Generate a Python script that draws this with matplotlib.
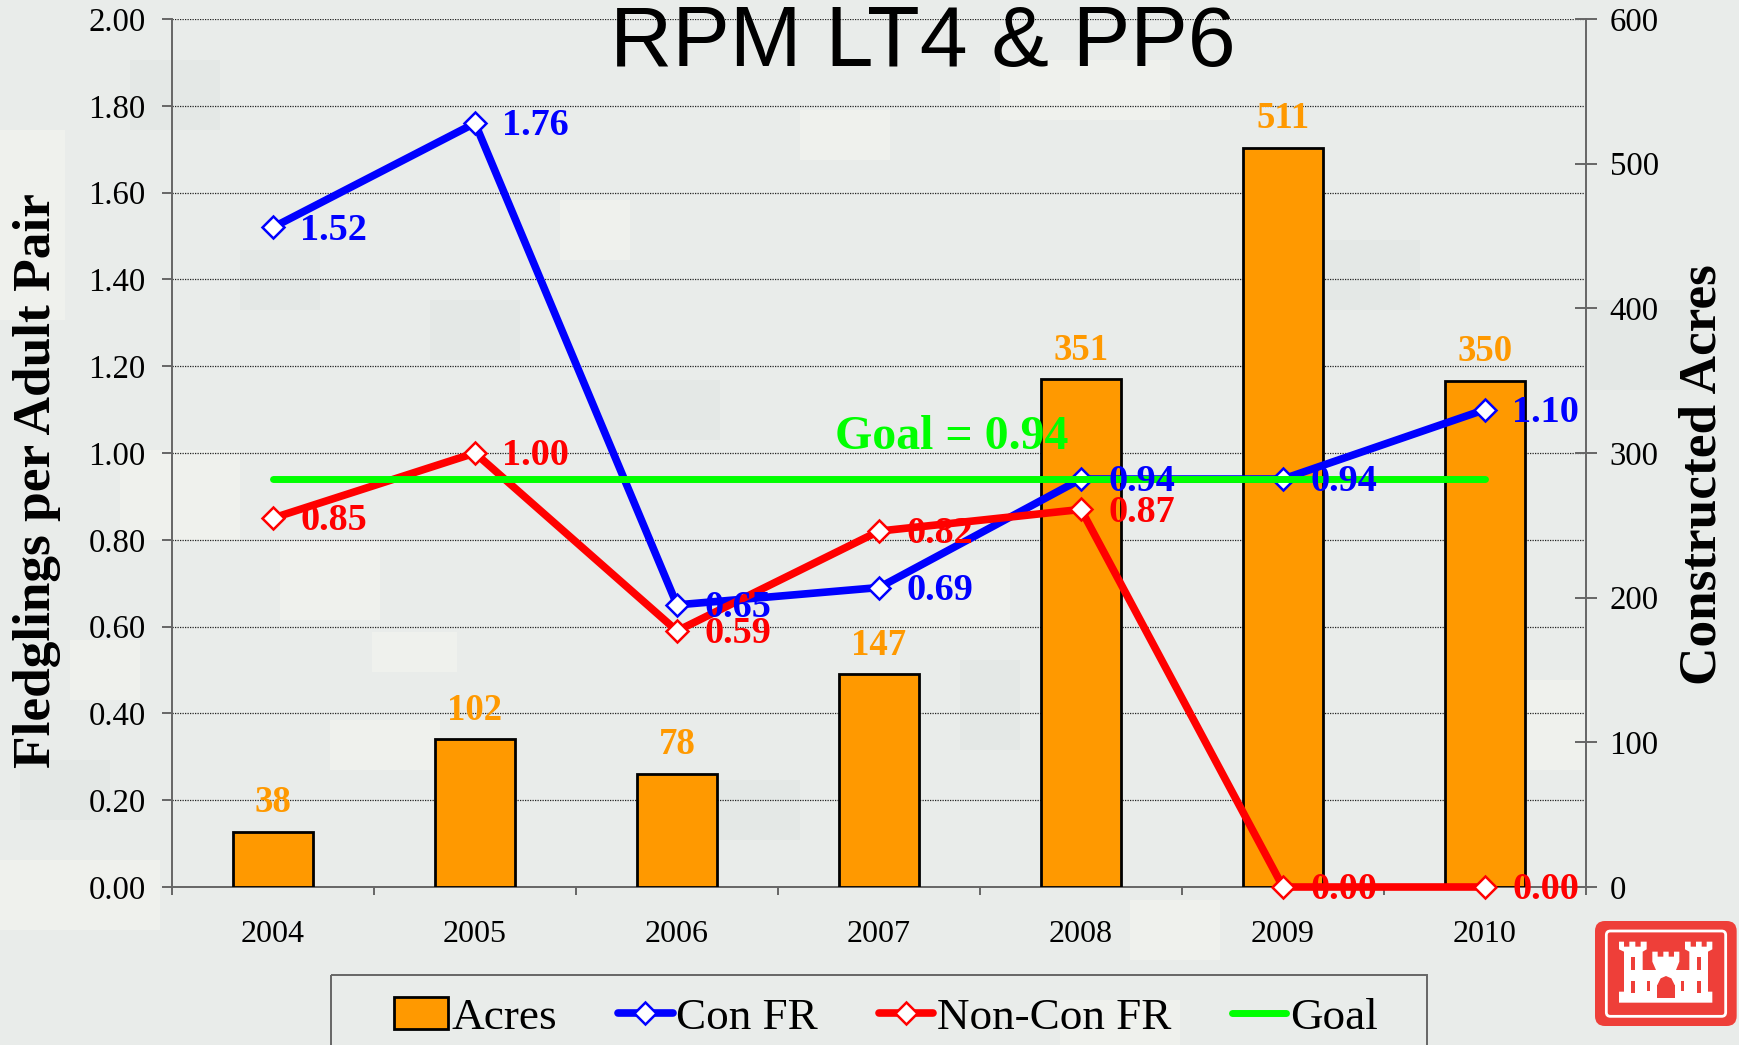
import matplotlib
matplotlib.use('Agg')
import matplotlib.pyplot as plt
from matplotlib.patches import Rectangle, FancyBboxPatch, Polygon, Patch
from matplotlib.lines import Line2D

years = ['2004', '2005', '2006', '2007', '2008', '2009', '2010']
acres = [38, 102, 78, 147, 351, 511, 350]
con_fr = [1.52, 1.76, 0.65, 0.69, 0.94, 0.94, 1.10]
non_con_fr = [0.85, 1.00, 0.59, 0.82, 0.87, 0.00, 0.00]
goal = [0.94, 0.94, 0.94, 0.94, 0.94, 0.94, 0.94]
left_ticks = [0.0, 0.2, 0.4, 0.6, 0.8, 1.0, 1.2, 1.4, 1.6, 1.8, 2.0]
right_ticks = [0, 100, 200, 300, 400, 500, 600]

W, H = 1739, 1045
ORANGE = '#FF9900'
GREY = '#666666'
plt.rcParams['font.family'] = ['Liberation Serif', 'DejaVu Serif']

fig = plt.figure(figsize=(W / 100, H / 100), dpi=100, facecolor='#E9ECEA')

# Camouflage background and logo, in pixels of the picture
bg = fig.add_axes([0, 0, 1, 1], zorder=-5)
bg.set_xlim(0, W)
bg.set_ylim(H, 0)
bg.axis('off')
light = [(0, 130, 65, 190), (280, 540, 100, 80), (372, 632, 85, 40), (120, 450, 120, 90),
         (1000, 60, 170, 60), (70, 640, 70, 60), (880, 560, 130, 70), (1240, 420, 90, 60),
         (1130, 900, 90, 60), (0, 860, 160, 70), (560, 200, 70, 60), (1500, 680, 90, 90),
         (330, 720, 110, 50), (800, 110, 90, 50), (1060, 1000, 120, 45)]
dark = [(130, 60, 90, 70), (600, 380, 120, 60), (430, 300, 90, 60), (1300, 240, 120, 70),
        (700, 780, 100, 60), (1590, 300, 110, 90), (20, 760, 90, 60), (960, 660, 60, 90),
        (1250, 700, 70, 60), (240, 250, 80, 60)]
for x, y, w, h in light:
    bg.add_patch(Rectangle((x, y), w, h, fc='#EFF1ED', ec='none'))
for x, y, w, h in dark:
    bg.add_patch(Rectangle((x, y), w, h, fc='#E4E8E6', ec='none'))

logo_red = '#EE3F39'
def z(px, py):
    return 1400 + px / 3, 850 + py / 3
bg.add_patch(FancyBboxPatch(z(600, 228), 395 / 3, 285 / 3, boxstyle='round,pad=5,rounding_size=10',
                            fc=logo_red, ec='none'))
bg.add_patch(FancyBboxPatch(z(622, 246), 352 / 3, 250 / 3, boxstyle='round,pad=1,rounding_size=4',
                            fc='none', ec='white', lw=2))
castle = [(657, 458), (657, 425), (672, 425), (672, 305), (657, 298), (657, 275), (672, 275), (672, 290),
          (688, 290), (688, 275), (706, 275), (706, 290), (722, 290), (722, 275), (740, 275), (740, 298),
          (728, 305), (728, 360), (768, 360), (757, 335), (757, 305), (773, 305), (773, 320), (790, 320),
          (790, 305), (806, 305), (806, 320), (822, 320), (822, 305), (838, 305), (838, 335), (828, 360),
          (868, 360), (868, 305), (855, 298), (855, 275), (872, 275), (872, 290), (888, 290), (888, 275),
          (905, 275), (905, 290), (920, 290), (920, 275), (937, 275), (937, 298), (924, 305), (924, 425),
          (937, 425), (937, 458)]
bg.add_patch(Polygon([z(*p) for p in castle], fc='white', ec='none'))
for x, y, w, h in [(694, 322, 10, 38), (892, 322, 10, 38), (694, 392, 10, 38), (892, 392, 10, 38),
                   (741, 392, 9, 30), (844, 392, 9, 30), (772, 405, 52, 40)]:
    bg.add_patch(Rectangle(z(x, y), w / 3, h / 3, fc=logo_red, ec='none'))
bg.add_patch(Polygon([z(772, 405), z(782, 385), z(798, 378), z(814, 385), z(824, 405)], fc=logo_red, ec='none'))

# Legend box runs off the bottom of the picture
bg.add_patch(Rectangle((331, 975), 1096, 120, fc='none', ec=GREY, lw=1.4))

# Axes: grid at the bottom, bars above it, lines on top
rect = [172 / W, 1 - 887 / H, (1586 - 172) / W, (887 - 19) / H]
ax = fig.add_axes(rect)
ax.patch.set_alpha(0)
ax2 = ax.twinx()
ax3 = ax.twinx()

positions = list(range(len(years)))
ax.set_xlim(-0.5, 6.5)
ax.set_ylim(0, 2)
ax2.set_ylim(0, 600)
ax3.set_ylim(0, 2)

ax.set_yticks(left_ticks)
ax.set_yticklabels(['%.2f' % v for v in left_ticks])
ax.grid(axis='y', color='#222222', linestyle=(0, (1, 1)), linewidth=0.9)
ax.tick_params(axis='y', length=7, width=1.4, color=GREY, labelsize=23.6, pad=12)
ax.set_xticks([p - 0.5 for p in positions] + [6.5])
ax.set_xticklabels([])
ax.set_xticks(positions, minor=True)
ax.set_xticklabels(years, minor=True)
ax.tick_params(axis='x', which='major', length=6, width=1.4, color=GREY)
ax.tick_params(axis='x', which='minor', length=0, labelsize=23, pad=24)
for s in ['top', 'right']:
    ax.spines[s].set_visible(False)
for s in ['left', 'bottom']:
    ax.spines[s].set_color(GREY)
    ax.spines[s].set_linewidth(1.4)

ax2.bar(positions, acres, width=0.4, color=ORANGE, edgecolor='black', linewidth=2)
ax2.set_yticks(right_ticks)
ax2.tick_params(axis='y', direction='inout', length=16, width=1.4, color=GREY, labelsize=23.6, pad=9)
for s in ['top', 'left', 'bottom']:
    ax2.spines[s].set_visible(False)
ax2.spines['right'].set_color(GREY)
ax2.spines['right'].set_linewidth(1.4)
for p, v in zip(positions, acres):
    ax2.annotate(str(v), (p, v), xytext=(0, 21), textcoords='offset points', ha='center', va='center',
                 color=ORANGE, fontsize=26.5, fontweight='bold')

ax3.axis('off')
marker_style = dict(marker='D', markersize=11.5, markerfacecolor='white', markeredgewidth=1.8)
ax3.plot(positions, con_fr, color='#0000FF', lw=5.5, markeredgecolor='#0000FF', zorder=3,
         solid_joinstyle='miter', clip_on=False, **marker_style)
ax3.plot(positions, non_con_fr, color='#FF0000', lw=5.5, markeredgecolor='#FF0000', zorder=4,
         solid_joinstyle='miter', clip_on=False, **marker_style)
ax3.plot(positions, goal, color='#00FF00', lw=5, solid_capstyle='round', zorder=4.5)
for series, col in [(con_fr, '#0000FF'), (non_con_fr, '#FF0000')]:
    for p, v in zip(positions, series):
        ax3.annotate('%.2f' % v, (p, v), xytext=(19.5, -2), textcoords='offset points', ha='left', va='center',
                     color=col, fontsize=27.5, fontweight='bold', zorder=5)
ax3.text(3.36, 1.037, 'Goal = 0.94', color='#00FF00', fontsize=34.5, fontweight='bold',
         ha='center', va='center', zorder=5)

fig.text(923 / W, 1 - 44 / H, 'RPM LT4 & PP6', family='Liberation Sans', fontsize=62, ha='center', va='center')
fig.text(37 / W, 1 - 481 / H, 'Fledglings per Adult Pair', rotation=90, fontsize=38.4, fontweight='bold',
         ha='center', va='center')
fig.text(1703 / W, 1 - 475 / H, 'Constructed Acres', rotation=90, fontsize=38.3, fontweight='bold',
         ha='center', va='center')

handles = [Patch(fc=ORANGE, ec='black', lw=2),
           Line2D([], [], color='#0000FF', lw=5.5, solid_capstyle='round', markeredgecolor='#0000FF', **marker_style),
           Line2D([], [], color='#FF0000', lw=5.5, solid_capstyle='round', markeredgecolor='#FF0000', **marker_style),
           Line2D([], [], color='#00FF00', lw=5, solid_capstyle='round')]
fig.legend(handles, ['Acres', 'Con FR', 'Non-Con FR', 'Goal'], ncol=4, loc='upper left',
           bbox_to_anchor=(394 / W, 1 - 997 / H), bbox_transform=fig.transFigure, borderaxespad=0,
           fontsize=32.5, frameon=False, handlelength=1.2, handletextpad=0.08, columnspacing=1.35,
           borderpad=0)

fig.savefig('out.png', dpi=100, facecolor=fig.get_facecolor())
